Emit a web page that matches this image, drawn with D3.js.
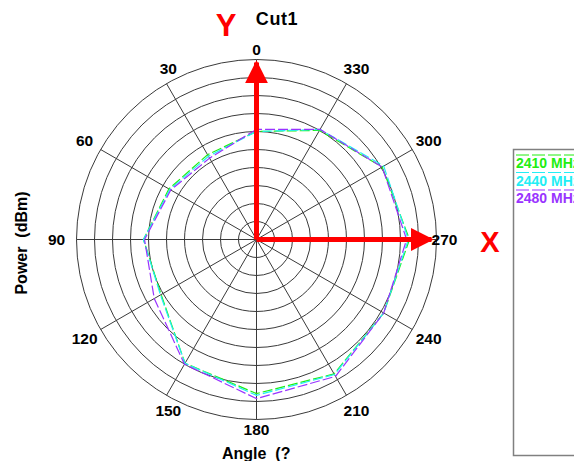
<!DOCTYPE html>
<html>
<head>
<meta charset="utf-8">
<script src="https://cdn.jsdelivr.net/npm/d3@7/dist/d3.min.js"></script>
<style>
  body { margin: 0; background: #fff; }
  svg { display: block; font-family: "Liberation Sans", Arial, sans-serif; }
</style>
</head>
<body>
<div id="chart"></div>
<script>
(function (d3) {
    'use strict';

    // angles in degrees (counter-clockwise from top), power in dBm
    var angles = [0, 30, 60, 90, 120, 150, 180, 210, 240, 270, 300, 330];
    var seriesNames = ['2410 MHz', '2440 MHz', '2480 MHz'];
    var p2410 = [-20.0, -22.8, -21.9, -18.6, -19.4, -10.3, -7.2, -6.9, -9.2, -7.5, -9.7, -15.0];
    var p2440 = [-20.0, -23.3, -22.2, -18.6, -19.2, -10.3, -6.7, -6.7, -9.2, -7.8, -9.2, -14.7];
    var p2480 = [-19.4, -23.9, -22.5, -18.9, -17.2, -10.0, -5.8, -6.1, -9.2, -8.3, -9.7, -14.7];
    var angleTicks = [0, 30, 60, 90, 120, 150, 180, 210, 240, 270, 300, 330];
    var powerDomain = [-50, 0];

    var colors = ['#22ee11', '#22eef5', '#9933ff'];
    var series = [p2410, p2440, p2480];

    var width = 574, height = 461,
        cx = 256.5, cy = 239.5, R = 180;

    var svg = d3.select('#chart').append('svg')
        .attr('width', width)
        .attr('height', height);

    var rScale = d3.scaleLinear().domain(powerDomain).range([0, R]);
    var rad = function (deg) { return deg * Math.PI / 180; };

    var plot = svg.append('g').attr('transform', 'translate(' + cx + ',' + cy + ')');

    // rings
    plot.selectAll('circle.ring')
        .data(rScale.ticks(10).filter(function (t) { return t > powerDomain[0]; }))
        .enter().append('circle')
        .attr('class', 'ring')
        .attr('r', function (d) { return rScale(d); })
        .attr('fill', 'none')
        .attr('stroke', '#3a3a3a')
        .attr('stroke-width', 1);

    // spokes
    plot.selectAll('line.spoke')
        .data(angleTicks)
        .enter().append('line')
        .attr('class', 'spoke')
        .attr('x1', 0).attr('y1', 0)
        .attr('x2', function (d) { return -R * Math.sin(rad(d)); })
        .attr('y2', function (d) { return -R * Math.cos(rad(d)); })
        .attr('stroke', '#3a3a3a')
        .attr('stroke-width', 1);

    // angle labels, pushed out a little more at the sides
    var labelX = function (d) {
        var s = Math.sin(rad(d)), c = Math.cos(rad(d));
        if (s > 0.01) {
            return -200 * s + 21 * Math.pow(c, 4);
        }
        return -s * (200 - 12 * Math.pow(s, 16));
    };
    var labelY = function (d) {
        var c = Math.cos(rad(d));
        return -c * (198 - 8 * Math.pow(c, 16));
    };

    plot.selectAll('text.angle')
        .data(angleTicks)
        .enter().append('text')
        .attr('class', 'angle')
        .attr('x', labelX)
        .attr('y', labelY)
        .attr('dy', '0.36em')
        .attr('text-anchor', 'middle')
        .attr('font-size', 15.5)
        .attr('font-weight', 'bold')
        .text(function (d) { return d; });

    // traces
    var line = d3.lineRadial()
        .angle(function (d) { return -rad(d[0]); })
        .radius(function (d) { return rScale(d[1]); })
        .curve(d3.curveLinearClosed);

    plot.selectAll('path.trace')
        .data(series)
        .enter().append('path')
        .attr('class', 'trace')
        .attr('d', function (vals) { return line(d3.zip(angles, vals)); })
        .attr('fill', 'none')
        .attr('stroke', function (d, i) { return colors[i]; })
        .attr('stroke-width', 1.2)
        .attr('stroke-dasharray', '10,3');

    // red axis arrows
    var defs = svg.append('defs');
    defs.append('marker')
        .attr('id', 'head')
        .attr('viewBox', '0 0 10 10')
        .attr('refX', 9).attr('refY', 5)
        .attr('markerWidth', 4.6).attr('markerHeight', 4.6)
        .attr('markerUnits', 'strokeWidth')
        .attr('orient', 'auto')
        .append('path')
        .attr('d', 'M0,0 L10,5 L0,10 Z')
        .attr('fill', '#ff0000');

    var arrows = [0, 270];
    plot.selectAll('line.arrow')
        .data(arrows)
        .enter().append('line')
        .attr('x1', 0).attr('y1', 0)
        .attr('x2', function (d) { return -(R - 5) * Math.sin(rad(d)); })
        .attr('y2', function (d) { return -(R - 3) * Math.cos(rad(d)); })
        .attr('stroke', '#ff0000')
        .attr('stroke-width', 5)
        .attr('marker-end', 'url(#head)');

    svg.append('text')
        .attr('x', 226).attr('y', 36)
        .attr('text-anchor', 'middle')
        .attr('font-size', 31)
        .attr('font-weight', 'bold')
        .attr('fill', '#ff0000')
        .text('Y');

    svg.append('text')
        .attr('x', 490).attr('y', 252)
        .attr('text-anchor', 'middle')
        .attr('font-size', 29)
        .attr('font-weight', 'bold')
        .attr('fill', '#ff0000')
        .text('X');

    // title and axis labels
    svg.append('text')
        .attr('x', 277).attr('y', 25)
        .attr('text-anchor', 'middle')
        .attr('font-size', 18)
        .attr('font-weight', 'bold')
        .attr('letter-spacing', 0.6)
        .text('Cut1');

    svg.append('text')
        .attr('transform', 'translate(27,243) rotate(-90)')
        .attr('text-anchor', 'middle')
        .attr('font-size', 16)
        .attr('font-weight', 'bold')
        .attr('xml:space', 'preserve')
        .text('Power  (dBm)');

    svg.append('text')
        .attr('x', 222).attr('y', 459)
        .attr('font-size', 16)
        .attr('font-weight', 'bold')
        .attr('xml:space', 'preserve')
        .text('Angle  (?');

    // legend (box runs past the right edge, as in the original)
    var legend = svg.append('g');
    legend.append('rect')
        .attr('x', 513.5).attr('y', 149.5)
        .attr('width', 80).attr('height', 306)
        .attr('fill', '#fff')
        .attr('stroke', '#808080')
        .attr('stroke-width', 1.5);

    var items = legend.selectAll('g.item')
        .data(seriesNames)
        .enter().append('g')
        .attr('transform', function (d, i) { return 'translate(516,' + (168 + i * 17.5) + ')'; });

    items.append('line')
        .attr('x1', 0).attr('x2', 60)
        .attr('y1', -13).attr('y2', -13)
        .attr('stroke', function (d, i) { return colors[i]; })
        .attr('stroke-width', 1)
        .attr('stroke-dasharray', '13,3');

    items.append('text')
        .attr('font-size', 14)
        .attr('font-weight', 'bold')
        .attr('fill', function (d, i) { return colors[i]; })
        .text(function (d) { return d; });
})(d3);
</script>
</body>
</html>
